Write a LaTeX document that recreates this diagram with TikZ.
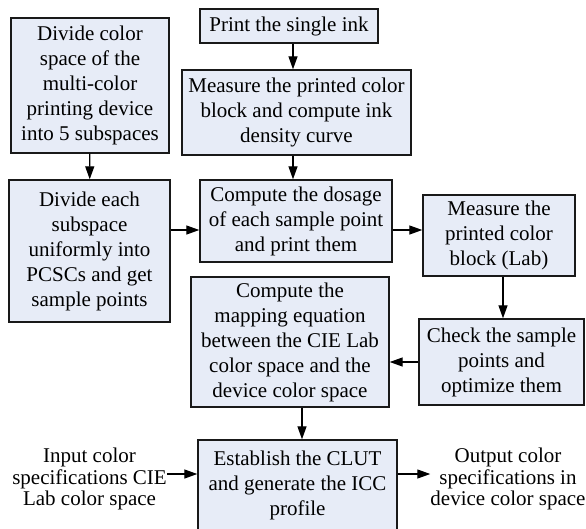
\documentclass[tikz,border=0pt]{standalone}
\usepackage{fontspec}
\setmainfont{Liberation Serif}
\usetikzlibrary{arrows.meta}
\definecolor{boxfill}{RGB}{231,236,247}
\tikzset{
  box/.style={draw=black!90, line width=1.4pt, fill=boxfill, align=center, inner sep=0pt,
    font=\fontsize{21}{25}\selectfont},
  plain/.style={align=center, inner sep=0pt, font=\fontsize{21}{21.5}\selectfont},
  arr/.style={line width=1.3pt, -{Triangle[length=13pt,width=9pt]}}
}
\begin{document}
\begin{tikzpicture}[x=1pt,y=-1pt]
\useasboundingbox (0,0) rectangle (586,528);
\node[box, minimum width=158, minimum height=135] (A) at (90,85.5)
  {Divide color\\space of the\\multi-color\\printing device\\into 5 subspaces};
\node[box, minimum width=178, minimum height=34] (P) at (289,26) {Print the single ink};
\node[box, minimum width=229, minimum height=85] (M1) at (296.5,112.5)
  {Measure the printed color\\block and compute ink\\density curve};
\node[box, minimum width=161, minimum height=142] (D) at (89.5,251)
  {Divide each\\subspace\\uniformly into\\PCSCs and get\\sample points};
\node[box, minimum width=192, minimum height=82] (C) at (296,221)
  {Compute the dosage\\of each sample point\\and print them};
\node[box, minimum width=152, minimum height=81] (ML) at (499,235.5)
  {Measure the\\printed color\\block (Lab)};
\node[box, minimum width=198, minimum height=130] (MAP) at (290,342)
  {Compute the\\mapping equation\\between the CIE Lab\\color space and the\\device color space};
\node[box, minimum width=165, minimum height=86] (CH) at (501.5,362)
  {Check the sample\\points and\\optimize them};
\node[box, minimum width=199, minimum height=91] (E) at (297.5,485.5)
  {Establish the CLUT\\and generate the ICC\\profile};
\node[plain, anchor=east] (IN) at (167,479)
  {Input color\\specifications CIE\\Lab color space};
\node[plain] (OUT) at (508,479)
  {Output color\\specifications in\\device color space};
\coordinate (x1) at (293,0);
\coordinate (x2) at (302,0);
\coordinate (x3) at (503,0);
\coordinate (y1) at (0,230);
\coordinate (y2) at (0,474);
\draw[arr] (A) -- (D);
\draw[arr] (P.south -| x1) -- (M1.north -| x1);
\draw[arr] (M1.south -| x1) -- (C.north -| x1);
\draw[arr] (D.east |- y1) -- (C.west |- y1);
\draw[arr] (C.east |- y1) -- (ML.west |- y1);
\draw[arr] (ML.south -| x3) -- (CH.north -| x3);
\draw[arr] (CH.west) -- (CH.west -| MAP.east);
\draw[arr] (MAP.south -| x2) -- (E.north -| x2);
\draw[arr] (IN.east |- y2) -- (E.west |- y2);
\draw[arr] (E.east |- y2) -- (OUT.west |- y2);
\end{tikzpicture}
\end{document}
